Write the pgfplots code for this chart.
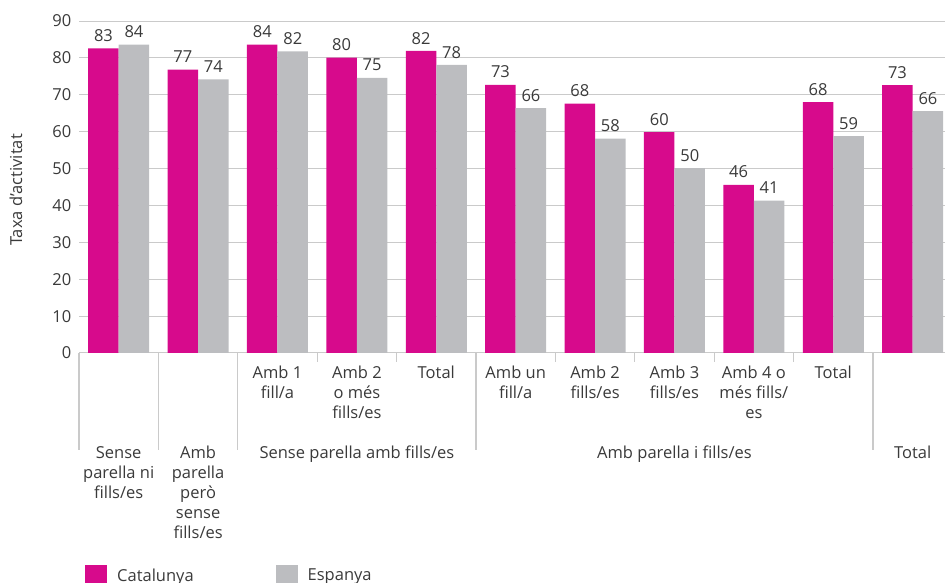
\documentclass[border=0pt]{standalone}
\usepackage{fontspec}
\setmainfont{Open Sans}
\usepackage{pgfplots}
\pgfplotsset{compat=1.18}
\definecolor{cat}{HTML}{D70A8C}
\definecolor{esp}{HTML}{BCBDC0}
\definecolor{gridc}{HTML}{CACACA}
\definecolor{txt}{HTML}{3A3A3A}
\pgfplotsset{sqlegend/.style={legend image code/.code={\fill[##1] (0pt,-11pt) rectangle (22pt,11pt);}}}
\newcommand{\fnt}{\fontsize{16.5}{20}\selectfont}
\begin{document}
\fnt
\begin{tikzpicture}[every node/.append style={text=txt}]
\useasboundingbox (0pt,0pt) rectangle (945pt,583pt);
\begin{axis}[
  at={(79pt,230pt)}, anchor=south west,
  scale only axis, width=866pt, height=332pt,
  xmin=-0.5, xmax=10.407, ymin=0, ymax=90,
  ytick={0,10,...,90}, xtick=\empty,
  ymajorgrids, grid style={gridc, line width=1pt},
  axis line style={draw=none}, major tick length=0pt,
  /pgf/number format/assume math mode=true,
  /pgf/number format/fixed, /pgf/number format/precision=0,
  yticklabel style={font=\fnt, xshift=-2pt},
  ybar=0pt, bar width=30.5pt,
  nodes near coords,
  every node near coord/.append style={font=\fnt, yshift=1pt},
  clip=false,
  ylabel={Taxa d’activitat},
  ylabel style={at={(axis description cs:-0.0727,0.491)}, anchor=center, font=\fontsize{16.5}{20}\selectfont},
  legend style={at={(axis description cs:0.0069,-0.6386)}, anchor=north west, draw=none, fill=none, inner sep=0pt,
    nodes={inner sep=0pt, anchor=west}, font=\fnt},
  legend columns=2,
  legend style={/tikz/every odd column/.append style={column sep=10pt},
                /tikz/every even column/.append style={column sep=82pt}},
]
\addplot[fill=cat, draw=none, sqlegend]
  coordinates {(0,82.6) (1,76.8) (2,83.6) (3,80.1) (4,81.9) (5,72.7) (6,67.6) (7,59.9) (8,45.6) (9,68.0) (10,72.6)};
\addplot[fill=esp, draw=none, sqlegend]
  coordinates {(0,83.6) (1,74.2) (2,81.8) (3,74.6) (4,78.1) (5,66.4) (6,58.1) (7,50.1) (8,41.3) (9,58.8) (10,65.6)};
\legend{Catalunya, Espanya}
% separators
\draw[gridc, line width=1.2pt] (axis cs:-0.5,0) -- ++(0pt,-97pt);
\draw[gridc, line width=1.2pt] (axis cs:0.5,0) -- ++(0pt,-97pt);
\draw[gridc, line width=1.2pt] (axis cs:1.5,0) -- ++(0pt,-97pt);
\draw[gridc, line width=1.2pt] (axis cs:4.5,0) -- ++(0pt,-97pt);
\draw[gridc, line width=1.2pt] (axis cs:9.5,0) -- ++(0pt,-97pt);
\draw[gridc, line width=1.2pt] (axis cs:2.5,0) -- ++(0pt,-9pt);
\draw[gridc, line width=1.2pt] (axis cs:3.5,0) -- ++(0pt,-9pt);
\draw[gridc, line width=1.2pt] (axis cs:5.5,0) -- ++(0pt,-9pt);
\draw[gridc, line width=1.2pt] (axis cs:6.5,0) -- ++(0pt,-9pt);
\draw[gridc, line width=1.2pt] (axis cs:7.5,0) -- ++(0pt,-9pt);
\draw[gridc, line width=1.2pt] (axis cs:8.5,0) -- ++(0pt,-9pt);
% level 1 labels
\node[anchor=north, align=center, inner sep=0pt, yshift=-13pt] at (axis cs:2,0) {Amb 1\\fill/a};
\node[anchor=north, align=center, inner sep=0pt, yshift=-13pt] at (axis cs:3,0) {Amb 2\\o més\\fills/es};
\node[anchor=north, align=center, inner sep=0pt, yshift=-13pt] at (axis cs:4,0) {Total};
\node[anchor=north, align=center, inner sep=0pt, yshift=-13pt] at (axis cs:5,0) {Amb un\\fill/a};
\node[anchor=north, align=center, inner sep=0pt, yshift=-13pt] at (axis cs:6,0) {Amb 2\\fills/es};
\node[anchor=north, align=center, inner sep=0pt, yshift=-13pt] at (axis cs:7,0) {Amb 3\\fills/es};
\node[anchor=north, align=center, inner sep=0pt, yshift=-13pt] at (axis cs:8,0) {Amb 4 o\\més fills/\\es};
\node[anchor=north, align=center, inner sep=0pt, yshift=-13pt] at (axis cs:9,0) {Total};
% level 2 labels
\node[anchor=north, align=center, inner sep=0pt, yshift=-93pt] at (axis cs:0,0) {Sense\\parella ni\\fills/es};
\node[anchor=north, align=center, inner sep=0pt, yshift=-93pt] at (axis cs:1,0) {Amb\\parella\\però\\sense\\fills/es};
\node[anchor=north, align=center, inner sep=0pt, yshift=-93pt] at (axis cs:3,0) {Sense parella amb fills/es};
\node[anchor=north, align=center, inner sep=0pt, yshift=-93pt] at (axis cs:7,0) {Amb parella i fills/es};
\node[anchor=north, align=center, inner sep=0pt, yshift=-93pt] at (axis cs:10,0) {Total};
\end{axis}
\end{tikzpicture}
\end{document}
